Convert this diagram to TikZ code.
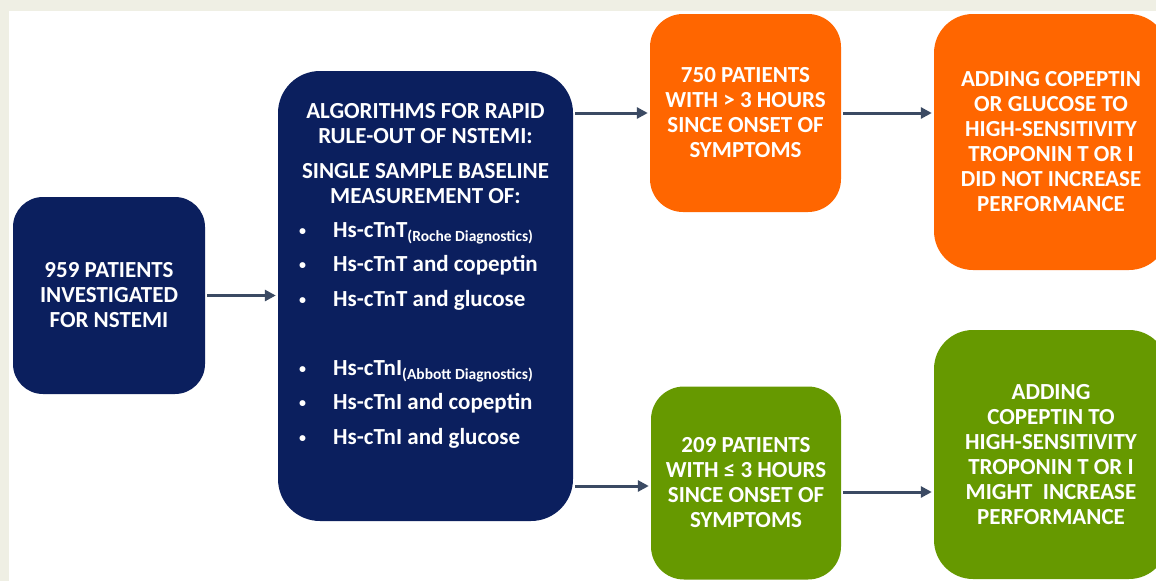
\documentclass[tikz,border=0pt]{standalone}
\usepackage{fontspec}
\setmainfont{Carlito}
\usepackage{tikz}
\usetikzlibrary{calc,arrows.meta}

\definecolor{navyBox}{HTML}{0B1F5E}
\definecolor{orangeBox}{HTML}{FF6600}
\definecolor{greenBox}{HTML}{669900}
\definecolor{arrowGray}{HTML}{3B4A63}
\definecolor{frameBeige}{HTML}{EFEFE4}

\newcommand{\subtext}[1]{\raisebox{-4pt}{\fontsize{15.5}{16}\selectfont #1}}
\newcommand{\dotmark}{\raisebox{2pt}{\fontsize{14}{14}\selectfont\textbullet}}

\begin{document}
\begin{tikzpicture}[x=1pt,y=-1pt,
  box/.style={rounded corners=#1, inner sep=0pt, text=white, align=center,
    font=\bfseries\fontsize{23}{25}\selectfont},
  box/.default=32pt,
  txt/.style={inner sep=0pt, text=white, font=\bfseries\fontsize{23}{25}\selectfont},
  flow/.style={draw=arrowGray, line width=3pt, -{Triangle[length=11pt,width=11pt]},
    shorten <=2pt, shorten >=2pt}]

  %% Frame and page
  \useasboundingbox (0,0) rectangle (1156,581);
  \clip (0,0) rectangle (1156,581);
  \fill[frameBeige] (0,0) rectangle (1156,581);
  \fill[white] (9,11) rectangle (1156,581);

  %% Boxes
  \node[box=30pt, fill=navyBox, minimum width=192pt, minimum height=197pt]
    (patients) at (109,295.5) {959 PATIENTS\\INVESTIGATED\\FOR NSTEMI};
  \node[box=42pt, fill=navyBox, minimum width=295pt, minimum height=450pt]
    (algo) at (425.5,296) {};
  \node[box=33pt, fill=orangeBox, minimum width=191pt, minimum height=198pt]
    (late) at (745.5,113) {750 PATIENTS\\WITH > 3 HOURS\\SINCE ONSET OF\\SYMPTOMS};
  \node[box=39pt, fill=orangeBox, minimum width=234pt, minimum height=256pt]
    (lateres) at (1051,142) {ADDING COPEPTIN\\OR GLUCOSE TO\\HIGH-SENSITIVITY\\TROPONIN T OR I\\DID NOT INCREASE\\PERFORMANCE};
  \node[box=33pt, fill=greenBox, minimum width=190pt, minimum height=193pt]
    (early) at (746,483) {209 PATIENTS\\WITH ≤ 3 HOURS\\SINCE ONSET OF\\SYMPTOMS};
  \node[box=39pt, fill=greenBox, minimum width=234pt, minimum height=249pt]
    (earlyres) at (1051,454.5) {ADDING\\COPEPTIN TO\\HIGH-SENSITIVITY\\TROPONIN T OR I\\MIGHT~~INCREASE\\PERFORMANCE};

  %% Text of the algorithm box
  \node[txt, align=center, anchor=north] (algohead) at (425.5,103)
    {ALGORITHMS FOR RAPID\\RULE-OUT OF NSTEMI:\\[10pt]SINGLE SAMPLE BASELINE\\MEASUREMENT OF:};
  \node[txt, anchor=base west] (algolist) at (299,237)
    {\def\arraystretch{1.38}%
     \begin{tabular}[t]{@{}l@{\hspace{27pt}}l@{}}
       \dotmark & Hs-cTnT\subtext{(Roche Diagnostics)}\\
       \dotmark & Hs-cTnT and copeptin\\
       \dotmark & Hs-cTnT and glucose\\
       & \\
       \dotmark & Hs-cTnI\subtext{(Abbott Diagnostics)}\\
       \dotmark & Hs-cTnI and copeptin\\
       \dotmark & Hs-cTnI and glucose
     \end{tabular}};

  %% Connectors
  \draw[flow] (patients.east) -- (patients.east -| algo.west);
  \draw[flow] (algo.east |- late.west) -- (late.west);
  \draw[flow] (late.east) -- (late.east -| lateres.west);
  \draw[flow] ([yshift=-3pt]algo.east |- early.west) -- ([yshift=-3pt]early.west);
  \draw[flow] ([yshift=-9pt]early.east) -- ([yshift=-9pt]early.east -| earlyres.west);

\end{tikzpicture}
\end{document}
